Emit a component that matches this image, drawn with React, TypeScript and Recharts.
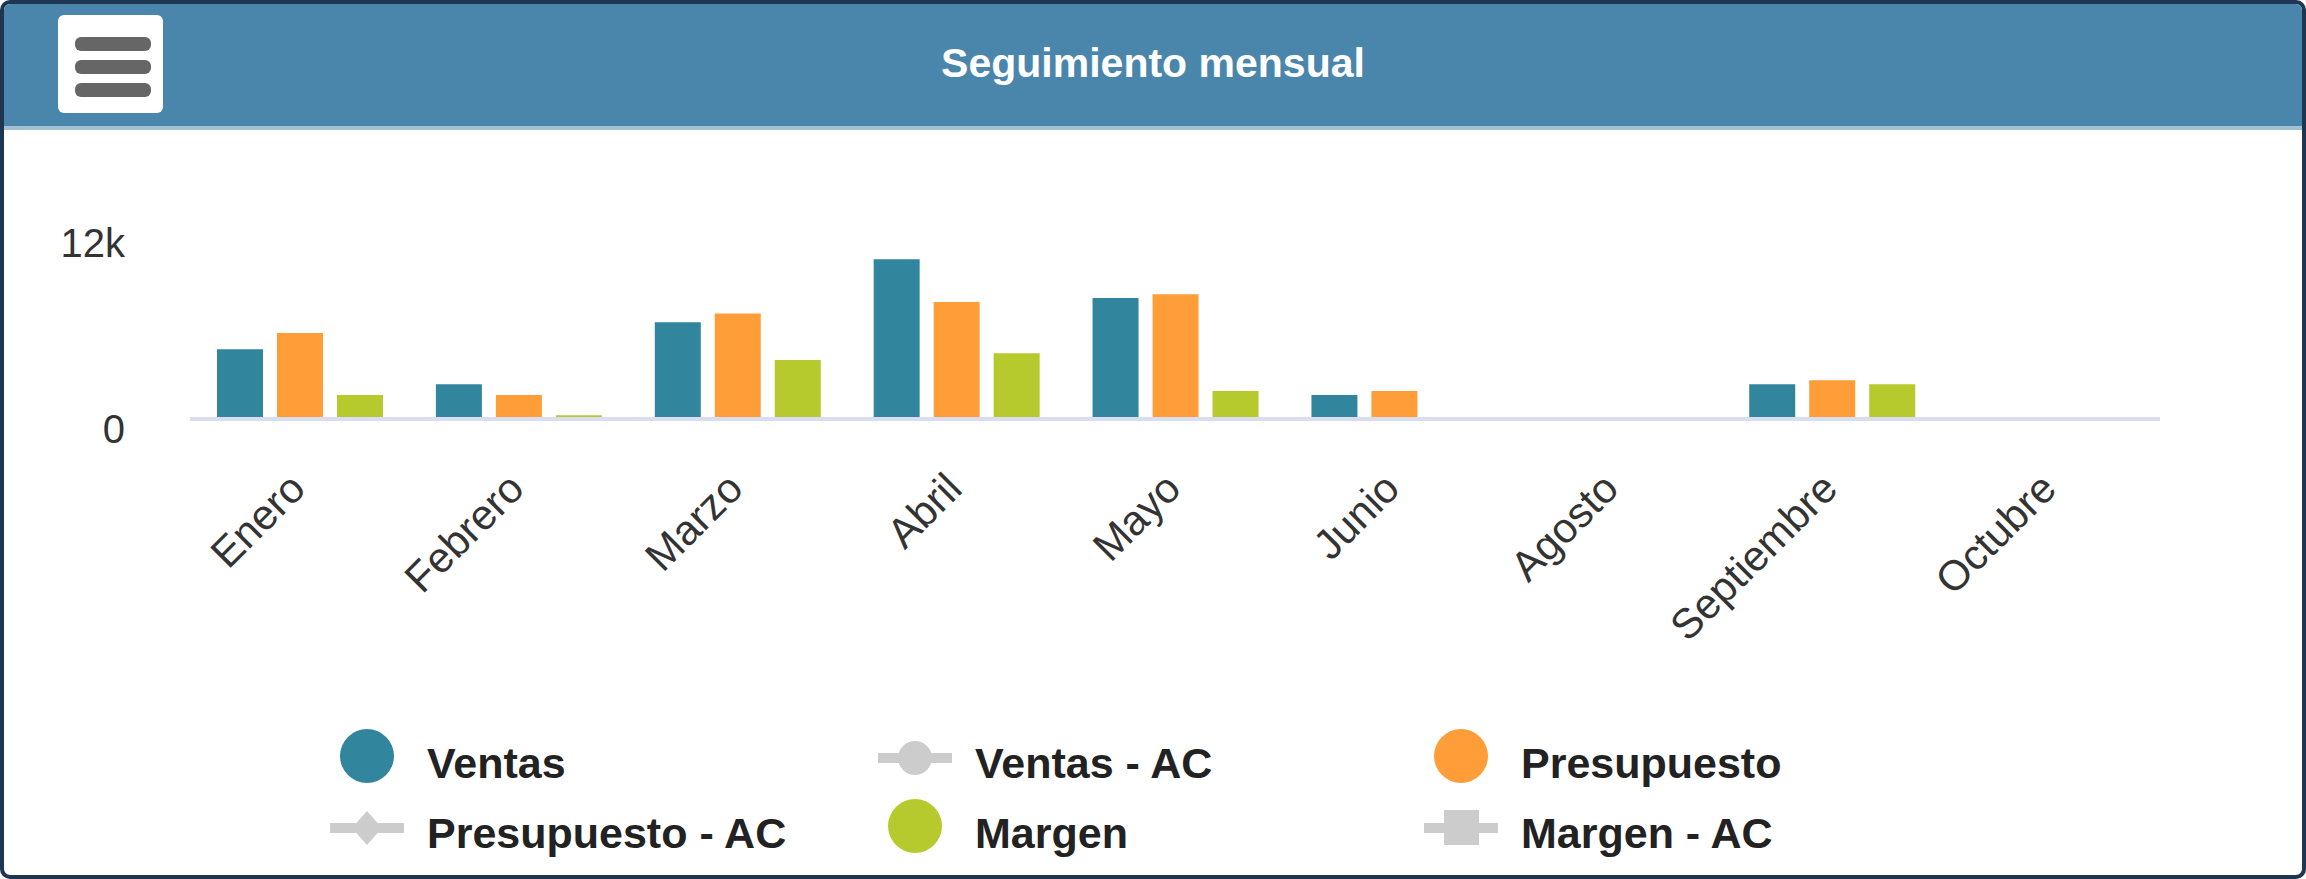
import { Bar, BarChart, Legend, XAxis, YAxis } from "recharts";

const months = ["Enero", "Febrero", "Marzo", "Abril", "Mayo", "Junio", "Agosto", "Septiembre", "Octubre"];
const ventas = [4500, 2250, 6250, 10300, 7800, 1550, null, 2250, 40];
const presupuesto = [5550, 1550, 6800, 7550, 8050, 1800, null, 2500, 30];
const margen = [1550, 250, 3800, 4250, 1800, null, null, 2250, null];

const yTicks = [0, 12000];
const yTickLabels = ["0", "12k"];

const legendNames = ["Ventas", "Ventas - AC", "Presupuesto", "Presupuesto - AC", "Margen", "Margen - AC"];
const legendColors = ["#31859c", "#cccccc", "#ff9d38", "#cccccc", "#b6ca2e", "#cccccc"];
const legendSymbols = ["circle", "line-circle", "circle", "line-diamond", "circle", "line-square"];

const FONT = "'Liberation Sans', Arial, sans-serif";

const data = months.map((m, i) => ({
  month: m,
  ventas: ventas[i],
  presupuesto: presupuesto[i],
  margen: margen[i],
}));

function XTick({ x, y, payload }: any) {
  const ax = x + 8;
  const ay = y + 72;
  return (
    <text x={ax} y={ay} transform={`rotate(-45 ${ax} ${ay})`} textAnchor="end" fontSize={42} fill="#333" fontFamily={FONT}>
      {payload.value}
    </text>
  );
}

function YTick({ x, y, payload }: any) {
  const label = yTickLabels[yTicks.indexOf(payload.value)] ?? String(payload.value);
  return (
    <text x={x - 65} y={y + 24} textAnchor="end" fontSize={40} fill="#333" fontFamily={FONT}>
      {label}
    </text>
  );
}

function LegendBox() {
  const colX = [367, 915, 1461];
  const rowBase = [58, 128];
  return (
    <svg width={2306} height={150} style={{ display: "block" }}>
      {legendNames.map((name, i) => {
        const cx = colX[i % 3];
        const base = rowBase[Math.floor(i / 3)];
        const cy = base - 21;
        const sym = legendSymbols[i];
        const c = legendColors[i];
        return (
          <g key={name}>
            {sym === "circle" && <circle cx={cx} cy={cy - 1} r={27} fill={c} />}
            {sym !== "circle" && <line x1={cx - 37} x2={cx + 37} y1={cy + 1} y2={cy + 1} stroke={c} strokeWidth={10} />}
            {sym === "line-circle" && <circle cx={cx} cy={cy + 1} r={17} fill={c} />}
            {sym === "line-diamond" && (
              <polygon points={`${cx},${cy - 16} ${cx + 15},${cy + 1} ${cx},${cy + 18} ${cx - 15},${cy + 1}`} fill={c} />
            )}
            {sym === "line-square" && <rect x={cx - 17} y={cy - 17} width={35} height={35} fill={c} />}
            <text x={cx + 60} y={base} fontSize={43} fontWeight="bold" fill="#222" fontFamily={FONT}>
              {name}
            </text>
          </g>
        );
      })}
    </svg>
  );
}

export default function App() {
  return (
    <div
      style={{
        position: "absolute",
        left: 0,
        top: 0,
        width: 2306,
        height: 879,
        boxSizing: "border-box",
        border: "4px solid #1f3652",
        borderRadius: 10,
        background: "#fff",
        overflow: "hidden",
        fontFamily: FONT,
      }}
    >
      <div
        style={{
          position: "absolute",
          left: 0,
          top: 0,
          width: "100%",
          height: 122,
          background: "#4a86ab",
          borderBottom: "4px solid #a2c0d4",
        }}
      />
      <div
        style={{
          position: "absolute",
          left: 54,
          top: 11,
          width: 105,
          height: 98,
          background: "#fff",
          borderRadius: 6,
          zIndex: 2,
        }}
      >
        {[22, 45, 68].map((t) => (
          <div
            key={t}
            style={{ position: "absolute", left: 17, top: t, width: 76, height: 14, borderRadius: 6, background: "#666" }}
          />
        ))}
      </div>
      <div
        style={{
          position: "absolute",
          left: 0,
          top: 34,
          width: "100%",
          textAlign: "center",
          color: "#fff",
          fontSize: 41,
          fontWeight: "bold",
          lineHeight: "50px",
          zIndex: 2,
        }}
      >
        Seguimiento mensual
      </div>
      <div style={{ position: "absolute", left: -4, top: -4 }}>
        <BarChart
          width={2306}
          height={879}
          data={data}
          margin={{ top: 233, right: 146, left: 90, bottom: 250 }}
          barCategoryGap={27}
          barGap={14}
        >
          <XAxis
            dataKey="month"
            interval={0}
            height={60}
            tickSize={0}
            tickMargin={0}
            tickLine={false}
            axisLine={{ stroke: "#d8deef", strokeWidth: 4 }}
            tick={<XTick />}
          />
          <YAxis
            width={100}
            domain={[0, 12000]}
            ticks={yTicks}
            tickSize={0}
            tickMargin={0}
            tickLine={false}
            axisLine={false}
            tick={<YTick />}
          />
          <Legend
            verticalAlign="bottom"
            content={() => <LegendBox />}
            wrapperStyle={{ position: "absolute", top: 720, left: 0, bottom: "auto", width: 2306, height: 150 }}
          />
          <Bar dataKey="ventas" name="Ventas" fill="#31859c" isAnimationActive={false} />
          <Bar dataKey="presupuesto" name="Presupuesto" fill="#ff9d38" isAnimationActive={false} />
          <Bar dataKey="margen" name="Margen" fill="#b6ca2e" isAnimationActive={false} />
        </BarChart>
      </div>
    </div>
  );
}
